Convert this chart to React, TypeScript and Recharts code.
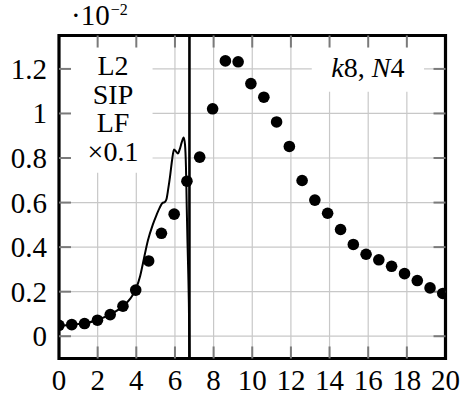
import {
  ComposedChart,
  XAxis,
  YAxis,
  CartesianGrid,
  Line,
  Scatter,
  ReferenceLine,
  ReferenceArea,
} from "recharts";

const xTicks = [0, 2, 4, 6, 8, 10, 12, 14, 16, 18, 20];
const yTicks = [0, 0.2, 0.4, 0.6, 0.8, 1, 1.2];

// sample points (dots)
const dotX = [
  0, 0.66, 1.32, 1.99, 2.65, 3.31, 3.97, 4.64, 5.3, 5.96, 6.62, 7.28, 7.95, 8.61, 9.27, 9.93,
  10.6, 11.26, 11.92, 12.58, 13.24, 13.9, 14.57, 15.23, 15.89, 16.55, 17.21, 17.88, 18.54, 19.2, 19.86,
];
const dotY = [
  0.049, 0.052, 0.057, 0.072, 0.097, 0.135, 0.207, 0.338, 0.462, 0.548, 0.696, 0.804, 1.021, 1.236,
  1.232, 1.134, 1.073, 0.962, 0.852, 0.699, 0.611, 0.552, 0.479, 0.412, 0.368, 0.343, 0.314, 0.281,
  0.25, 0.217, 0.192,
];

// reference curve (LF x0.1)
const curveX = [
  0, 0.66, 1.32, 1.99, 2.65, 3.31, 3.7, 3.97, 4.2, 4.35, 4.6, 4.85, 5.05, 5.2, 5.35, 5.48, 5.56,
  5.65, 5.75, 5.85, 5.95, 6.05, 6.15, 6.25, 6.35, 6.45, 6.52, 6.57, 6.61, 6.65, 6.69, 6.72, 6.75,
];
const curveY = [
  0.048, 0.052, 0.058, 0.073, 0.098, 0.135, 0.17, 0.21, 0.27, 0.33, 0.43, 0.5, 0.545, 0.575, 0.598,
  0.603, 0.615, 0.66, 0.72, 0.79, 0.838, 0.83, 0.82, 0.84, 0.87, 0.892, 0.86, 0.76, 0.58, 0.42, 0.28,
  0.15, -0.1,
];

const poleX = 6.75;
const boxLines = ["L2", "SIP", "LF", "×0.1"];

const dots = dotX.map((x, i) => ({ x, y: dotY[i] }));
const curve = curveX.map((x, i) => ({ x, y: curveY[i] }));

const font = "Liberation Serif";
const tickGray = "#7a7a7a";

const XTick = ({ x, y, payload }: any) => (
  <text x={x} y={y + 20} textAnchor="middle" fontSize={29} fontFamily={font} fill="#000">
    {payload.value}
  </text>
);

const YTick = ({ x, y, payload }: any) => (
  <text x={x} y={y + 10} textAnchor="end" fontSize={29} fontFamily={font} fill="#000">
    {payload.value}
  </text>
);

const LeftText = ({ viewBox }: any) => {
  const cx = viewBox.x + 54;
  return (
    <text x={cx} y={viewBox.y + 39.5} textAnchor="middle" fontSize={28} fontFamily={font} fill="#000">
      {boxLines.map((t, i) => (
        <tspan key={t} x={cx} dy={i === 0 ? 0 : 28.5}>
          {t}
        </tspan>
      ))}
    </text>
  );
};

const RightText = ({ viewBox }: any) => (
  <text
    x={viewBox.x + viewBox.width / 2}
    y={viewBox.y + 41.5}
    textAnchor="middle"
    fontSize={28}
    fontFamily={font}
    fill="#000"
  >
    <tspan fontStyle="italic">k</tspan>
    <tspan>8, </tspan>
    <tspan fontStyle="italic">N</tspan>
    <tspan>4</tspan>
  </text>
);

const ScaleText = ({ viewBox }: any) => (
  <text x={71} y={viewBox.y - 10.5} fontSize={29} fontFamily={font} fill="#000">
    <tspan>·10</tspan>
    <tspan fontSize={16} dy={-10.5} dx={1}>
      −2
    </tspan>
  </text>
);

export default function App() {
  const xLen = 0.62;
  const yLen = 0.054;
  return (
    <div style={{ position: "absolute", left: 0, top: 0, width: 470, height: 400, background: "#fff" }}>
      <ComposedChart
        width={470}
        height={400}
        margin={{ top: 35.5, right: 24.5, left: 0, bottom: 0 }}
      >
        <CartesianGrid stroke="#c8c8c8" strokeWidth={1.2} />
        <XAxis
          type="number"
          dataKey="x"
          domain={[0, 20]}
          ticks={xTicks}
          interval={0}
          axisLine={false}
          tickLine={false}
          tickSize={0}
          tickMargin={11.5}
          height={41.5}
          tick={<XTick />}
          allowDataOverflow
        />
        <YAxis
          type="number"
          dataKey="y"
          domain={[-0.1, 1.35]}
          ticks={yTicks}
          interval={0}
          axisLine={false}
          tickLine={false}
          tickSize={0}
          tickMargin={12}
          width={59}
          tick={<YTick />}
          allowDataOverflow
          label={<ScaleText />}
        />
        <ReferenceArea x1={0} x2={4.84} y1={0.734} y2={1.35} fill="#fff" fillOpacity={1} stroke="none" label={<LeftText />} />
        <ReferenceArea x1={13.08} x2={18.89} y1={1.097} y2={1.35} fill="#fff" fillOpacity={1} stroke="none" label={<RightText />} />
        {yTicks.map((v) => (
          <ReferenceLine key={"l" + v} segment={[{ x: 0, y: v }, { x: xLen, y: v }]} stroke={tickGray} strokeWidth={2} />
        ))}
        {yTicks.map((v) => (
          <ReferenceLine key={"r" + v} segment={[{ x: 20 - xLen, y: v }, { x: 20, y: v }]} stroke={tickGray} strokeWidth={2} />
        ))}
        {xTicks.slice(1, -1).map((v) => (
          <ReferenceLine key={"b" + v} segment={[{ x: v, y: -0.1 }, { x: v, y: -0.1 + yLen }]} stroke={tickGray} strokeWidth={2} />
        ))}
        {xTicks.slice(1, -1).map((v) => (
          <ReferenceLine key={"t" + v} segment={[{ x: v, y: 1.35 - yLen }, { x: v, y: 1.35 }]} stroke={tickGray} strokeWidth={2} />
        ))}
        <ReferenceArea x1={0} x2={20} y1={-0.1} y2={1.35} fill="none" stroke="#000" strokeWidth={3.2} />
        <ReferenceLine x={poleX} stroke="#000" strokeWidth={2.6} />
        <Line
          data={curve}
          dataKey="y"
          type="monotone"
          stroke="#000"
          strokeWidth={2}
          dot={false}
          activeDot={false}
          isAnimationActive={false}
        />
        <Scatter
          data={dots}
          dataKey="y"
          fill="#000"
          isAnimationActive={false}
          shape={(p: any) => <circle cx={p.cx} cy={p.cy} r={5.8} fill="#000" />}
        />
      </ComposedChart>
    </div>
  );
}
